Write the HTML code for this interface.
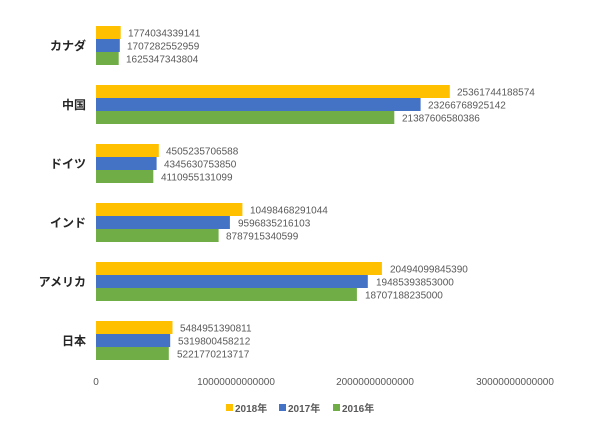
<!DOCTYPE html>
<html><head><meta charset="utf-8"><style>
html,body{margin:0;padding:0;background:#fff;}
svg{display:block;}
text{font-family:"Liberation Sans","Noto Sans CJK JP",sans-serif;}
.cat{font-family:"Liberation Serif","Noto Serif CJK SC",serif;}
</style></head><body>
<svg width="600" height="429" viewBox="0 0 600 429" xmlns="http://www.w3.org/2000/svg">
<rect width="600" height="429" fill="#fff"/>
<g font-size="10" fill="#595959">
<rect x="96" y="26" width="24.7" height="13" fill="#FFC000"/>
<rect x="96" y="39" width="23.8" height="13" fill="#4472C4"/>
<rect x="96" y="52" width="22.7" height="13" fill="#70AD47"/>
<text x="128" y="36.5">1774034339141</text>
<text x="127" y="49.5">1707282552959</text>
<text x="126" y="62.5">1625347343804</text>

<rect x="96" y="85" width="353.8" height="13" fill="#FFC000"/>
<rect x="96" y="98" width="324.6" height="13" fill="#4472C4"/>
<rect x="96" y="111" width="298.3" height="13" fill="#70AD47"/>
<text x="457" y="95.5">25361744188574</text>
<text x="428" y="108.5">23266768925142</text>
<text x="402" y="121.5">21387606580386</text>

<rect x="96" y="144" width="62.8" height="13" fill="#FFC000"/>
<rect x="96" y="157" width="60.6" height="13" fill="#4472C4"/>
<rect x="96" y="170" width="57.3" height="13" fill="#70AD47"/>
<text x="166" y="154.5">4505235706588</text>
<text x="164" y="167.5">4345630753850</text>
<text x="161" y="180.5">4110955131099</text>

<rect x="96" y="203" width="146.4" height="13" fill="#FFC000"/>
<rect x="96" y="216" width="133.9" height="13" fill="#4472C4"/>
<rect x="96" y="229" width="122.6" height="13" fill="#70AD47"/>
<text x="250" y="213.5">10498468291044</text>
<text x="238" y="226.5">9596835216103</text>
<text x="226" y="239.5">8787915340599</text>

<rect x="96" y="262" width="285.9" height="13" fill="#FFC000"/>
<rect x="96" y="275" width="271.8" height="13" fill="#4472C4"/>
<rect x="96" y="288" width="260.9" height="13" fill="#70AD47"/>
<text x="390" y="272.5">20494099845390</text>
<text x="376" y="285.5">19485393853000</text>
<text x="365" y="298.5">18707188235000</text>

<rect x="96" y="321" width="76.5" height="13" fill="#FFC000"/>
<rect x="96" y="334" width="74.2" height="13" fill="#4472C4"/>
<rect x="96" y="347" width="72.8" height="13" fill="#70AD47"/>
<text x="180" y="331.5">5484951390811</text>
<text x="178" y="344.5">5319800458212</text>
<text x="177" y="357.5">5221770213717</text>
</g>
<g class="cat" font-size="12" font-weight="bold" fill="#262626" text-anchor="end">
<text x="86" y="50">カナダ</text>
<text x="86" y="109">中国</text>
<text x="86" y="168">ドイツ</text>
<text x="86" y="227">インド</text>
<text x="86" y="286">アメリカ</text>
<text x="86" y="345">日本</text>
</g>
<g font-size="10" fill="#595959" text-anchor="middle">
<text x="96" y="385">0</text>
<text x="236" y="385">10000000000000</text>
<text x="375" y="385">20000000000000</text>
<text x="515" y="385">30000000000000</text>
</g>
<g font-size="10" font-weight="bold" fill="#595959">
<rect x="226" y="404" width="7" height="7" fill="#FFC000"/>
<text x="235" y="412">2018年</text>
<rect x="279" y="404" width="7" height="7" fill="#4472C4"/>
<text x="288" y="412">2017年</text>
<rect x="333" y="404" width="7" height="7" fill="#70AD47"/>
<text x="342" y="412">2016年</text>
</g>
</svg>
</body></html>
